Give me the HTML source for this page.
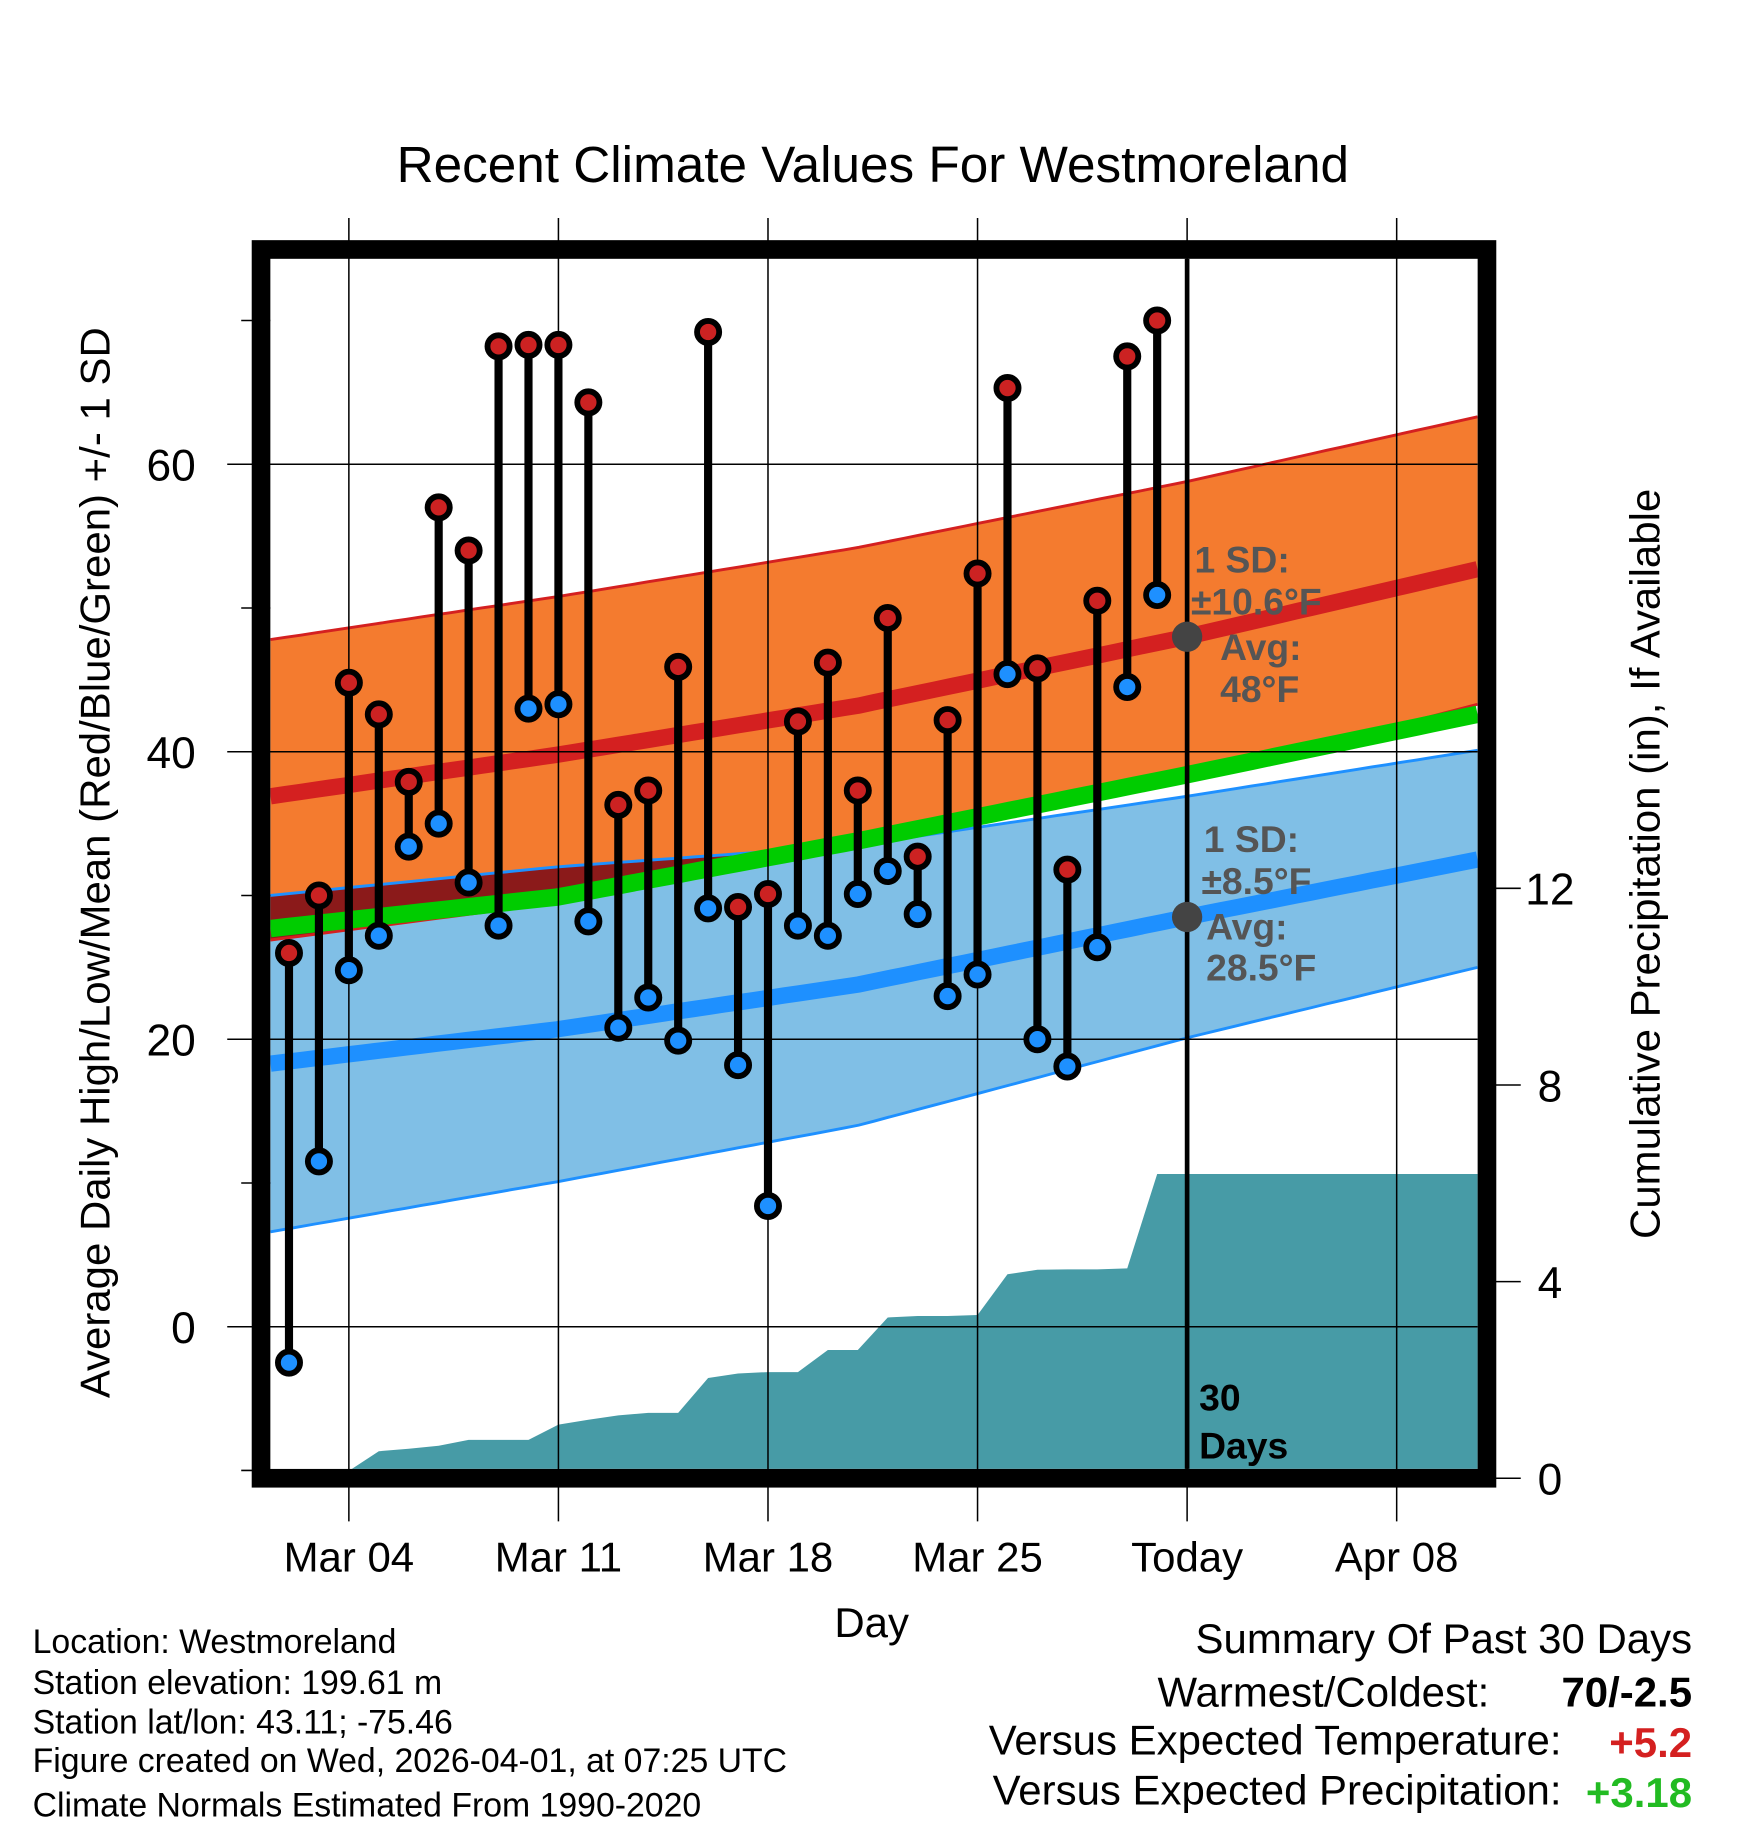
<!DOCTYPE html>
<html><head><meta charset="utf-8"><style>
html,body{margin:0;padding:0;background:#fff;}
svg{display:block;font-family:"Liberation Sans",Arial,sans-serif;}
</style></head><body>
<svg id="chart" width="1748" height="1828" viewBox="0 0 1500 1568" preserveAspectRatio="none" xmlns="http://www.w3.org/2000/svg">
<text x="749" y="156" font-size="44" text-anchor="middle">Recent Climate Values For Westmoreland</text>
<g id="layer"></g>
</svg>
<script>
// ---- data ----
const days = ["Mar 02","Mar 03","Mar 04","Mar 05","Mar 06","Mar 07","Mar 08","Mar 09","Mar 10","Mar 11","Mar 12","Mar 13","Mar 14","Mar 15","Mar 16","Mar 17","Mar 18","Mar 19","Mar 20","Mar 21","Mar 22","Mar 23","Mar 24","Mar 25","Mar 26","Mar 27","Mar 28","Mar 29","Mar 30","Mar 31"];
const highs = [26,30,44.8,42.6,37.9,57,54,68.2,68.3,68.3,64.3,36.3,37.3,45.9,69.2,29.2,30.1,42.1,46.2,37.3,49.3,32.7,42.2,52.4,65.3,45.8,31.8,50.5,67.5,70];
const lows = [-2.5,11.5,24.8,27.2,33.4,35,30.9,27.9,43,43.3,28.2,20.8,22.9,19.9,29.1,18.2,8.4,27.9,27.2,30.1,31.7,28.7,23,24.5,45.4,20,18.1,26.4,44.5,50.9];
const precip = [0,0,0.15,0.55,0.6,0.66,0.78,0.78,0.78,1.09,1.19,1.28,1.33,1.33,2.04,2.13,2.16,2.16,2.61,2.61,3.27,3.3,3.3,3.32,4.15,4.24,4.25,4.25,4.27,6.19];
const normDays = [0.38,10,20,31,40.7]; // days after Mar 01
const highMean = [36.9,39.8,43.2,48.0,52.7];
const highUpper = [47.8,50.8,54.2,58.8,63.3];
const highLower = [26.9,29.5,33.3,38.0,43.3];
const lowMean = [18.3,20.7,23.8,28.5,32.5];
const lowUpper = [30.0,32.0,33.5,36.9,40.1];
const lowLower = [6.6,10.1,14.0,20.1,25.0];
const avgMean = [27.7,29.9,33.8,38.4,42.6];
const xTickDays = [3,10,17,24,31,38];
const xTickLabels = ["Mar 04","Mar 11","Mar 18","Mar 25","Today","Apr 08"];
const yTicks = [0,20,40,60];
const yMinor = [-10,10,30,50,70];
const pTicks = [0,4,8,12];

// ---- axes ----
const L=232,R=1268,T=222,B=1260;
const X = d => 222.3 + d*25.69;           // d = days after Mar 01
const Y = v => 1138 - v*12.33;            // temperature
const P = v => 1268 - v*42.17;            // precipitation
const NS="http://www.w3.org/2000/svg";
const layer=document.getElementById('layer');
function mk(tag,attrs,parent){const e=document.createElementNS(NS,tag);for(const k in attrs)e.setAttribute(k,attrs[k]);(parent||layer).appendChild(e);return e;}
function interp(arr,d){for(let i=0;i<normDays.length-1;i++){if(d<=normDays[i+1]||i==normDays.length-2){const t=(d-normDays[i])/(normDays[i+1]-normDays[i]);return arr[i]+t*(arr[i+1]-arr[i]);}}}
const samp=[];for(let i=0;i<=80;i++)samp.push(normDays[0]+(normDays[4]-normDays[0])*i/80);
function line(arr){return samp.map(d=>X(d).toFixed(1)+','+Y(interp(arr,d)).toFixed(1)).join(' ');}
function band(up,lo){return samp.map(d=>X(d).toFixed(1)+','+Y(interp(up,d)).toFixed(1)).concat(samp.slice().reverse().map(d=>X(d).toFixed(1)+','+Y(interp(lo,d)).toFixed(1))).join(' ');}

const defs=mk('defs',{});const cp=mk('clipPath',{id:'pc'},defs);mk('rect',{x:L,y:T,width:R-L,height:B-T},cp);
const g=mk('g',{'clip-path':'url(#pc)'});

// precip
let pp=[[X(1),P(0)]];
precip.forEach((v,i)=>pp.push([X(i+1),P(v)]));
pp.push([X(40.8),P(precip[precip.length-1])]);pp.push([X(40.8),P(0)]);
const pa=mk('polygon',{points:pp.map(p=>p.join(',')).join(' '),fill:'#479ba6'},g);



// bands
const lb=mk('polygon',{points:band(lowUpper,lowLower),fill:'#80bfe6'},g);


const hb=mk('polygon',{points:band(highUpper,highLower),fill:'#f47b2f'},g);


const ov=samp.filter(d=>interp(lowUpper,d)>interp(highLower,d));
if(ov.length>1){const pts=ov.map(d=>X(d)+','+Y(interp(lowUpper,d))).concat(ov.slice().reverse().map(d=>X(d)+','+Y(interp(highLower,d)))).join(' ');
const o=mk('polygon',{points:pts,fill:'#8b1a1a'},g);

}
[[highUpper,'#d42020',2.5],[highLower,'#d42020',2.5],[lowUpper,'#1e90ff',2.5],[lowLower,'#1e90ff',2.5]].forEach(a=>mk('polyline',{points:line(a[0]),fill:'none',stroke:a[1],'stroke-width':a[2]},g));
const gm=mk('polyline',{points:line(avgMean),fill:'none',stroke:'#00cc00','stroke-width':15},g);


const hm=mk('polyline',{points:line(highMean),fill:'none',stroke:'#d42020','stroke-width':14},g);


const lm=mk('polyline',{points:line(lowMean),fill:'none',stroke:'#1e90ff','stroke-width':14},g);



// grid
yTicks.forEach(v=>mk('line',{x1:195,x2:R,y1:Y(v),y2:Y(v),stroke:'#000','stroke-width':1.3}));
yMinor.forEach(v=>mk('line',{x1:207,x2:L,y1:Y(v),y2:Y(v),stroke:'#000','stroke-width':1.3}));
xTickDays.forEach(d=>mk('line',{x1:X(d),x2:X(d),y1:187,y2:1305,stroke:'#000','stroke-width':1.3}));
pTicks.forEach(v=>mk('line',{x1:1275,x2:1305,y1:P(v),y2:P(v),stroke:'#000','stroke-width':1.3}));

// today line
mk('line',{x1:X(31),x2:X(31),y1:T,y2:B,stroke:'#000','stroke-width':4});

// daily bars
highs.forEach((h,i)=>{
  const x=X(i+1);
  const bar=mk('line',{x1:x,x2:x,y1:Y(h),y2:Y(lows[i]),stroke:'#000','stroke-width':7});
  
  
  const hc=mk('circle',{cx:x,cy:Y(h),r:9.5,fill:'#cc2222',stroke:'#000','stroke-width':5});
  
  
  const lc=mk('circle',{cx:x,cy:Y(lows[i]),r:9.5,fill:'#1e90ff',stroke:'#000','stroke-width':5});
  
  
});

// avg dots
mk('circle',{cx:X(31),cy:Y(interp(highMean,31)),r:13,fill:'#444'});
mk('circle',{cx:X(31),cy:Y(interp(lowMean,31)),r:13,fill:'#444'});

// frame
const fr=mk('rect',{x:224,y:214,width:1052,height:1054,fill:'none',stroke:'#000','stroke-width':16});



function txt(s,x,y,attrs,name){const t=mk('text',Object.assign({x:x,y:y},attrs));t.textContent=s;return t;}
yTicks.forEach(v=>txt(String(v),168,Y(v)+14,{'font-size':38,'text-anchor':'end'},'y-tick-label'));
pTicks.forEach(v=>txt(String(v),1330,P(v)+14,{'font-size':38,'text-anchor':'middle'},'y2-tick-label'));
xTickDays.forEach((d,i)=>txt(xTickLabels[i],X(d),1348,{'font-size':36,'text-anchor':'middle'},'x-tick-label'));
txt('Day',748,1404,{'font-size':36,'text-anchor':'middle'},'x-axis-title');
txt('Average Daily High/Low/Mean (Red/Blue/Green) +/- 1 SD',0,0,{'font-size':36,'text-anchor':'middle',transform:'translate(94,740) rotate(-90)'},'y-axis-title');
txt('Cumulative Precipitation (in), If Available',0,0,{'font-size':36,'text-anchor':'middle',transform:'translate(1424,741) rotate(-90)'},'y2-axis-title');
const gs={'font-size':32,'font-weight':'bold',fill:'#555'};
txt('1 SD:',1025,491,gs,'high-sd-label');
txt('±10.6°F',1022,527,gs,'high-sd-value');
txt('Avg:',1047,566,gs,'high-avg-label');
txt('48°F',1047,602,gs,'high-avg-value');
txt('1 SD:',1033,731,gs,'low-sd-label');
txt('±8.5°F',1031,767,gs,'low-sd-value');
txt('Avg:',1035,806,gs,'low-avg-label');
txt('28.5°F',1035,841,gs,'low-avg-value');
txt('30',1029,1210,{'font-size':32,'font-weight':'bold'},'days-label');
txt('Days',1029,1251,{'font-size':32,'font-weight':'bold'},'days-label');
const info=['Location: Westmoreland','Station elevation: 199.61 m','Station lat/lon: 43.11; -75.46','Figure created on Wed, 2026-04-01, at 07:25 UTC','Climate Normals Estimated From 1990-2020'];
[1418,1453,1487,1520,1558].forEach((y,i)=>txt(info[i],28,y,{'font-size':29},'station-info'));
txt('Summary Of Past 30 Days',1452,1418,{'font-size':36,'text-anchor':'end'},'summary-title');
txt('Warmest/Coldest:',1278,1464,{'font-size':36,'text-anchor':'end'},'summary-label');
txt('70/-2.5',1452,1464,{'font-size':36,'text-anchor':'end','font-weight':'bold'},'summary-value');
txt('Versus Expected Temperature:',1340,1505,{'font-size':36,'text-anchor':'end'},'summary-label');
txt('+5.2',1452,1507,{'font-size':36,'text-anchor':'end','font-weight':'bold',fill:'#d42020'},'summary-value');
txt('Versus Expected Precipitation:',1340,1548,{'font-size':36,'text-anchor':'end'},'summary-label');
txt('+3.18',1452,1550,{'font-size':36,'text-anchor':'end','font-weight':'bold',fill:'#22bb22'},'summary-value');
</script>
</body></html>
